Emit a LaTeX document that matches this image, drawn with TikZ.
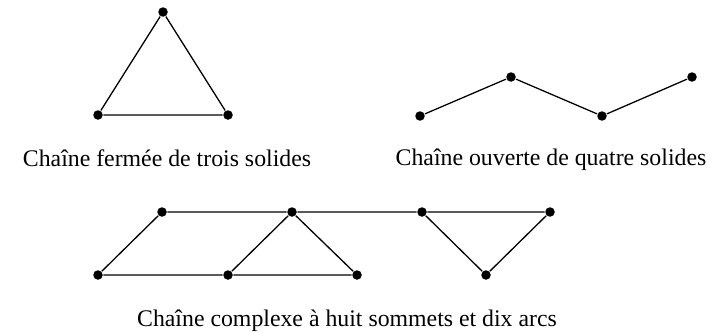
\documentclass[tikz,border=0pt]{standalone}
\usepackage{fontspec}
\setmainfont{Liberation Serif}
\usetikzlibrary{positioning}

\begin{document}
\begin{tikzpicture}[x=1pt, y=-1pt, line width=1.3pt,
    sommet/.style={circle, fill=black, inner sep=0pt, minimum size=9.5pt},
    legende/.style={font=\fontsize{23.8}{28}\selectfont, anchor=base, inner sep=0pt}]
  \useasboundingbox (0,0) rectangle (723,332);

  % 1. Chaine fermee (triangle)
  \node[sommet] (ta) at (163,12) {};
  \node[sommet] (tb) at (98,115) {};
  \node[sommet] (tc) at (228,115) {};
  \draw (ta) -- (tb) -- (tc) -- (ta);
  \node[legende] (lf) at (167,166) {Chaîne fermée de trois solides};

  % 2. Chaine ouverte (quatre solides)
  \node[sommet] (oa) at (420,116) {};
  \node[sommet] (ob) at (511,77) {};
  \node[sommet] (oc) at (602,116) {};
  \node[sommet] (od) at (692,77) {};
  \draw (oa) -- (ob) -- (oc) -- (od);
  \node[legende] (lo) at (551,165) {Chaîne ouverte de quatre solides};

  % 3. Chaine complexe (huit sommets, dix arcs)
  \node[sommet] (h1) at (162,212) {};
  \node[sommet] (h2) at (292,212) {};
  \node[sommet] (h3) at (422,212) {};
  \node[sommet] (h4) at (550,212) {};
  \node[sommet] (b1) at (98,275) {};
  \node[sommet] (b2) at (228,275) {};
  \node[sommet] (b3) at (357,275) {};
  \node[sommet] (b4) at (486,275) {};
  \draw (b1) -- (h1) -- (h2) -- (h3) -- (h4) -- (b4) -- (h3);
  \draw (b1) -- (b2) -- (b3) -- (h2) -- (b2);
  \node[legende] (lc) at (347,326) {Chaîne complexe à huit sommets et dix arcs};
\end{tikzpicture}
\end{document}
